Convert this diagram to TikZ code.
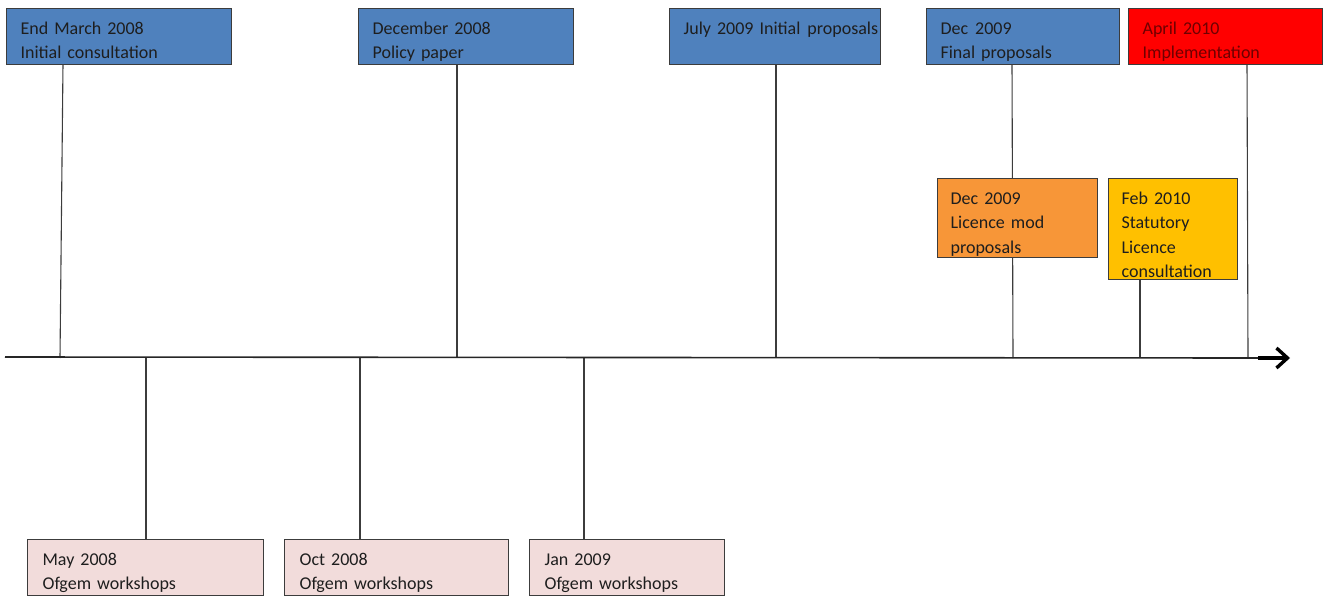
\documentclass[tikz,border=0pt]{standalone}
\usepackage{fontspec}
\setmainfont{Carlito}
\usetikzlibrary{arrows.meta}
\definecolor{cblue}{RGB}{79,129,189}
\definecolor{corange}{RGB}{247,150,56}
\definecolor{cyellow}{RGB}{255,192,0}
\definecolor{cred}{RGB}{255,0,0}
\definecolor{cpink}{RGB}{242,220,219}
\definecolor{cline}{RGB}{60,60,60}
\definecolor{ctext}{RGB}{30,30,30}
\definecolor{credtext}{RGB}{110,0,0}
\begin{document}
\begin{tikzpicture}[x=1pt,y=-1pt,
  box/.style={draw=cline, line width=1.2pt, anchor=north west, inner xsep=14pt, inner ysep=0pt,
    align=left, text=ctext, font=\fontsize{18}{24.5}\selectfont, text height=25.5pt},
  conn/.style={draw=cline, line width=1.1pt}]
\useasboundingbox (0,0) rectangle (1327,596);
% connector endpoints on the axis
\coordinate (aA) at (60,358);
\coordinate (aB) at (457,358);
\coordinate (aC) at (776,358);
\coordinate (aD) at (1013,358);
\coordinate (aE) at (1248,358);
\coordinate (aG) at (1140,358);
\coordinate (aM) at (146,358);
\coordinate (aO) at (360,358);
\coordinate (aJ) at (584,358);
\coordinate (axL) at (5,357);
\coordinate (axM) at (1258,358);
\coordinate (axR) at (1290,358);
% connectors (drawn first, boxes cover them)
\draw[conn] (63,64) -- (aA);
\draw[conn] (457,64) -- (aB);
\draw[conn] (776,64) -- (aC);
\draw[conn] (1012,64) -- (aD);
\draw[conn] (1247,64) -- (aE);
\draw[conn] (1140,279) -- (aG);
\draw[conn] (aM) -- (146,540);
\draw[conn] (aO) -- (360,540);
\draw[conn] (aJ) -- (584,540);
% axis
\draw[draw=black!85, line width=1.6pt] (axL) -- (axM);
\draw[draw=black, line width=3.4pt, -{Straight Barb[length=11pt,width=20pt,line width=3.4pt]}] (axM) -- (axR);
% top boxes
\node[box, fill=cblue, minimum width=225, minimum height=56, text width=197, text depth=30.5pt] (A) at (6,8) {End March 2008\\Initial consultation};
\node[box, fill=cblue, minimum width=215, minimum height=56, text width=187, text depth=30.5pt] (B) at (358,8) {December 2008\\Policy paper};
\node[box, fill=cblue, minimum width=211, minimum height=56, text width=183, text depth=30.5pt] (C) at (669,8) {\mbox{July 2009 Initial\hspace{7pt}proposals}};
\node[box, fill=cblue, minimum width=193, minimum height=56, text width=165, text depth=30.5pt] (D) at (926,8) {Dec\hspace{7pt}2009\\Final proposals};
\node[box, fill=cred, text=credtext, minimum width=194, minimum height=56, text width=166, text depth=30.5pt] (E) at (1128,8) {April 2010\\Implementation};
% middle boxes
\node[box, fill=corange, minimum width=160, minimum height=79, inner xsep=13pt, text width=134, text depth=53.5pt] (F) at (937,178) {Dec 2009\\Licence mod\\proposals};
\node[box, fill=cyellow, minimum width=129, minimum height=101, inner xsep=13pt, text width=103, text depth=75.5pt] (G) at (1108,178) {Feb 2010\\Statutory\\Licence\\consultation};
% bottom boxes
\node[box, fill=cpink, minimum width=236, minimum height=56, inner xsep=15pt, text width=206, text depth=30.5pt] (M) at (27,539) {May 2008\\Ofgem workshops};
\node[box, fill=cpink, minimum width=224, minimum height=56, inner xsep=15pt, text width=194, text depth=30.5pt] (O) at (284,539) {Oct 2008\\Ofgem workshops};
\node[box, fill=cpink, minimum width=195, minimum height=56, inner xsep=15pt, text width=165, text depth=30.5pt] (J) at (529,539) {Jan 2009\\Ofgem workshops};
\end{tikzpicture}
\end{document}
